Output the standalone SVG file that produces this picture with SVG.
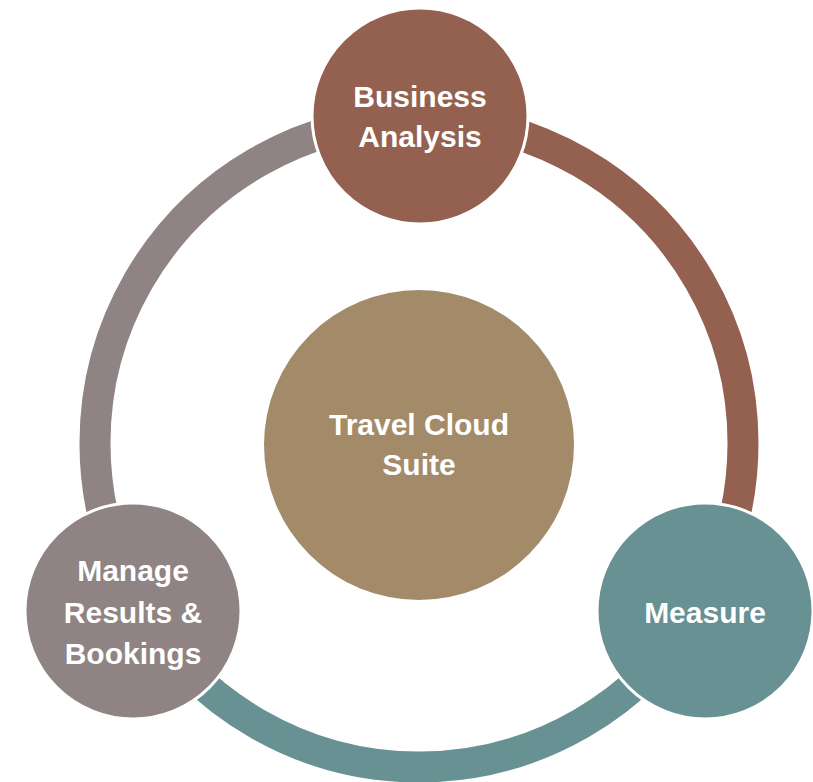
<svg xmlns="http://www.w3.org/2000/svg" width="813" height="782" viewBox="0 0 813 782">
<style>
.ring{fill:none;stroke-width:31;stroke-linecap:butt}
.node{stroke:#ffffff;stroke-width:3}
.lbl{font-family:"Liberation Sans",Arial,sans-serif;font-weight:bold;font-size:30px;fill:#ffffff;text-anchor:middle}
</style>
<rect width="813" height="782" fill="#ffffff"/>
<g id="connectors">
<path class="ring" stroke="#946150" d="M 419 119 A 324 324 0 0 1 699.6 605"/>
<path class="ring" stroke="#679193" d="M 699.6 605 A 324 324 0 0 1 138.4 605"/>
<path class="ring" stroke="#8F8383" d="M 138.4 605 A 324 324 0 0 1 419 119"/>
</g>
<g id="center">
<circle cx="419" cy="445" r="155" fill="#A38B69"/>
<text class="lbl" x="419" y="435">Travel Cloud</text>
<text class="lbl" x="419" y="475">Suite</text>
</g>
<g id="business-analysis">
<circle class="node" cx="420" cy="116" r="108" fill="#946150"/>
<text class="lbl" x="420" y="107">Business</text>
<text class="lbl" x="420" y="147">Analysis</text>
</g>
<g id="measure">
<circle class="node" cx="705" cy="611" r="108" fill="#679193"/>
<text class="lbl" x="705" y="623">Measure</text>
</g>
<g id="manage">
<circle class="node" cx="133" cy="611" r="108" fill="#8F8383"/>
<text class="lbl" x="133" y="581">Manage</text>
<text class="lbl" x="133" y="623">Results &amp;</text>
<text class="lbl" x="133" y="664">Bookings</text>
</g>
</svg>
